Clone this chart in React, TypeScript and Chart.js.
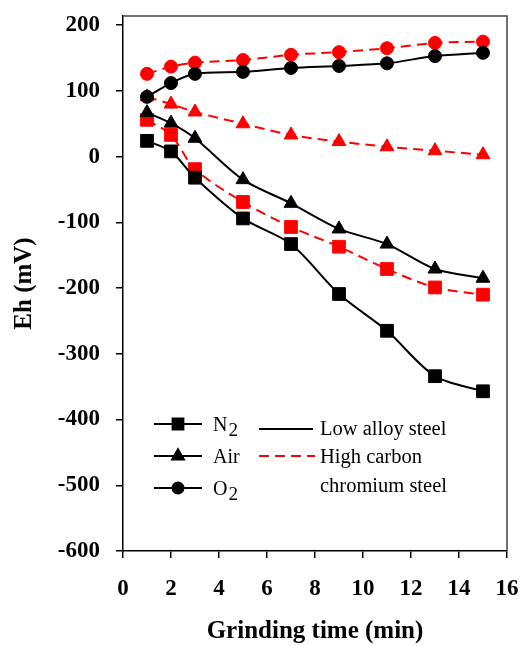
import React, { useEffect, useRef } from 'react';
import { Chart, registerables } from 'chart.js';
import { drawPoint } from 'chart.js/helpers';

Chart.register(...registerables);

const times = [1, 2, 3, 5, 7, 9, 11, 13, 15];
const lowN2 = [24, 8, -32, -94, -133, -209, -265, -334, -357];
const lowAir = [67, 51, 28, -35, -71, -110, -133, -171, -185];
const lowO2 = [91, 112, 126, 129, 135, 138, 142, 153, 158];
const highN2 = [56, 33, -19, -69, -107, -137, -171, -199, -210];
const highAir = [91, 80, 68, 50, 33, 23, 15, 9, 3];
const highO2 = [126, 137, 143, 147, 155, 159, 165, 173, 175];

const xTicks = [0, 2, 4, 6, 8, 10, 12, 14, 16];
const yTicks = [-600, -500, -400, -300, -200, -100, 0, 100, 200];

const gasLabels: [string, string][] = [['N', '2'], ['Air', ''], ['O', '2']];
const steelLabels = ['Low alloy steel', 'High carbon', 'chromium steel'];

const RED = '#ff0000';
const BLACK = '#000000';
const FONT = "'Liberation Serif', 'Times New Roman', serif";

const pts = (vals: number[]) => times.map((t, i) => ({ x: t, y: vals[i] }));

const styleFor = (style: string) =>
  style === 'rect' ? 9 : style === 'triangle' ? 8 : 6.5;

function ds(vals: number[], color: string, style: string, dashed: boolean) {
  return {
    data: pts(vals),
    borderColor: color,
    backgroundColor: color,
    pointBackgroundColor: color,
    pointBorderColor: color,
    pointStyle: style,
    pointRadius: styleFor(style),
    pointBorderWidth: 1,
    borderWidth: 2,
    borderDash: dashed ? [10, 6] : [],
    tension: 0.3,
    fill: false,
  };
}

const zeroPad = (s: any) => {
  s.paddingTop = 0;
  s.paddingBottom = 0;
  s.paddingLeft = 0;
  s.paddingRight = 0;
};

const legendPlugin = {
  id: 'customLegend',
  afterDraw(chart: any) {
    const { ctx, chartArea } = chart;
    const { left, top, right, bottom } = chartArea;
    ctx.save();
    ctx.strokeStyle = '#444';
    ctx.lineWidth = 1.5;
    ctx.beginPath();
    ctx.moveTo(left, top);
    ctx.lineTo(right, top);
    ctx.lineTo(right, bottom);
    ctx.stroke();

    const styles = ['rect', 'triangle', 'circle'];
    const rowY = [bottom - 127, bottom - 95, bottom - 63];
    for (let i = 0; i < 3; i++) {
      const y = rowY[i];
      ctx.strokeStyle = BLACK;
      ctx.lineWidth = 2;
      ctx.setLineDash([]);
      ctx.beginPath();
      ctx.moveTo(left + 31, y);
      ctx.lineTo(left + 79, y);
      ctx.stroke();
      ctx.fillStyle = BLACK;
      drawPoint(ctx, { pointStyle: styles[i], radius: styleFor(styles[i]) * 0.85, borderWidth: 1 }, left + 55, y);
      ctx.fill();
      ctx.font = `20px ${FONT}`;
      ctx.textBaseline = 'middle';
      ctx.textAlign = 'left';
      const [main, sub] = gasLabels[i];
      ctx.fillText(main, left + 90, y + 2);
      if (sub) {
        const w = ctx.measureText(main).width;
        ctx.font = `19px ${FONT}`;
        ctx.fillText(sub, left + 91 + w, y + 7);
      }
    }
    ctx.lineWidth = 2;
    ctx.strokeStyle = BLACK;
    ctx.setLineDash([]);
    ctx.beginPath();
    ctx.moveTo(left + 136, bottom - 122);
    ctx.lineTo(left + 190, bottom - 122);
    ctx.stroke();
    ctx.strokeStyle = RED;
    ctx.setLineDash([10, 6]);
    ctx.beginPath();
    ctx.moveTo(left + 136, bottom - 95);
    ctx.lineTo(left + 192, bottom - 95);
    ctx.stroke();
    ctx.setLineDash([]);
    ctx.fillStyle = BLACK;
    ctx.font = `20.5px ${FONT}`;
    ctx.textBaseline = 'middle';
    const steelY = [bottom - 121, bottom - 93, bottom - 64];
    steelLabels.forEach((s, i) => ctx.fillText(s, left + 197, steelY[i]));
    ctx.restore();
  },
};

export default function App() {
  const ref = useRef<HTMLCanvasElement | null>(null);
  useEffect(() => {
    if (!ref.current) return;
    const chart = new Chart(ref.current, {
      type: 'line',
      data: {
        datasets: [
          ds(lowN2, BLACK, 'rect', false),
          ds(lowAir, BLACK, 'triangle', false),
          ds(lowO2, BLACK, 'circle', false),
          ds(highN2, RED, 'rect', true),
          ds(highAir, RED, 'triangle', true),
          ds(highO2, RED, 'circle', true),
        ] as any,
      },
      options: {
        animation: false,
        responsive: true,
        maintainAspectRatio: false,
        layout: { padding: { top: 16, right: 15, left: 0, bottom: 0 } },
        plugins: { legend: { display: false }, tooltip: { enabled: false } },
        scales: {
          x: {
            type: 'linear',
            min: 0,
            max: 16,
            afterBuildTicks: (s: any) => {
              s.ticks = xTicks.map((v) => ({ value: v }));
            },
            afterFit: (s: any) => {
              s.height = 95;
              zeroPad(s);
            },
            grid: { drawOnChartArea: false, drawTicks: true, tickLength: 7, color: BLACK, lineWidth: 1.5 },
            border: { display: true, color: BLACK, width: 1.5 },
            ticks: {
              color: BLACK,
              font: { family: FONT, size: 23, weight: 'bold' },
              padding: 17,
              maxRotation: 0,
            },
            title: {
              display: true,
              text: 'Grinding time (min)',
              color: BLACK,
              font: { family: FONT, size: 25, weight: 'bold' },
              padding: { top: 0, bottom: -1 },
            },
          },
          y: {
            type: 'linear',
            min: -600,
            max: 214,
            afterBuildTicks: (s: any) => {
              s.ticks = yTicks.map((v) => ({ value: v }));
            },
            afterFit: (s: any) => {
              s.width = 123;
              zeroPad(s);
            },
            grid: { drawOnChartArea: false, drawTicks: true, tickLength: 7, color: BLACK, lineWidth: 1.5 },
            border: { display: true, color: BLACK, width: 1.5 },
            ticks: {
              color: BLACK,
              font: { family: FONT, size: 23, weight: 'bold' },
              padding: 16,
            },
            title: {
              display: true,
              text: 'Eh (mV)',
              color: BLACK,
              font: { family: FONT, size: 25, weight: 'bold' },
              padding: { top: 10, bottom: 0 },
            },
          },
        },
      } as any,
      plugins: [legendPlugin],
    });
    return () => chart.destroy();
  }, []);
  return (
    <div style={{ position: 'absolute', left: 0, top: 0, width: 522, height: 646, background: '#fff' }}>
      <canvas ref={ref} />
    </div>
  );
}
